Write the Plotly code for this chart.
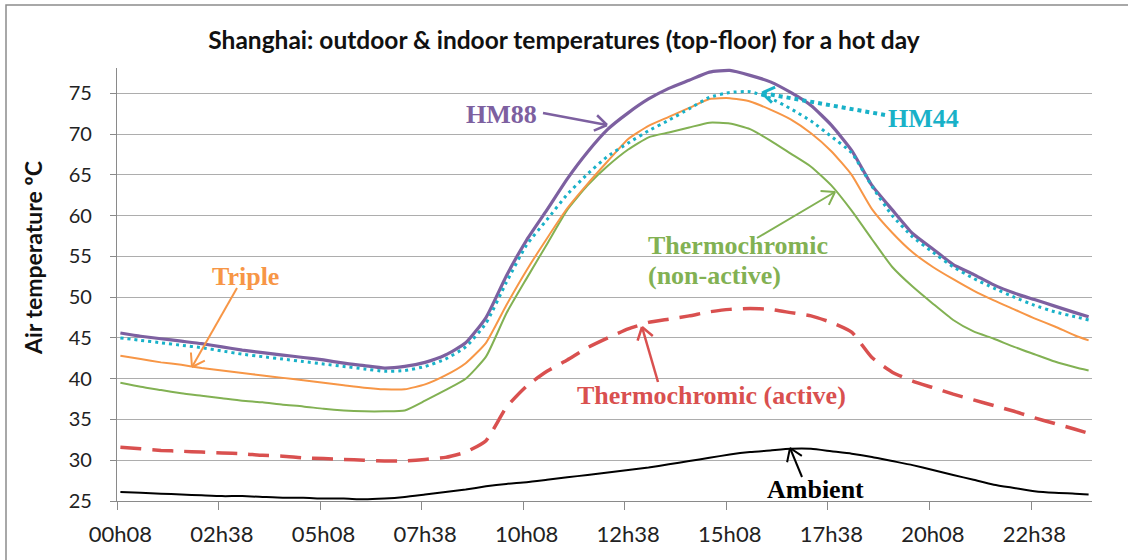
import math
import plotly.graph_objects as go

# ---------------- data ----------------
TIMES = ["00h08", "00h38", "01h08", "01h38", "02h08", "02h38", "03h08", "03h38",
         "04h08", "04h38", "05h08", "05h38", "06h08", "06h38", "07h08", "07h38",
         "08h08", "08h38", "09h08", "09h38", "10h08", "10h38", "11h08", "11h38",
         "12h08", "12h38", "13h08", "13h38", "14h08", "14h38", "15h08", "15h38",
         "16h08", "16h38", "17h08", "17h38", "18h08", "18h38", "19h08", "19h38",
         "20h08", "20h38", "21h08", "21h38", "22h08", "22h38", "23h08", "23h38",
         "23h58"]

TICK_LABELS = ["00h08", "02h38", "05h08", "07h38", "10h08", "12h38",
               "15h08", "17h38", "20h08", "22h38"]

Y_TICKS = [25, 30, 35, 40, 45, 50, 55, 60, 65, 70, 75]

AMBIENT = [26.1, 26.0, 25.9, 25.8, 25.7, 25.6, 25.6, 25.5, 25.4, 25.4,
           25.3, 25.3, 25.2, 25.3, 25.5, 25.8, 26.1, 26.4, 26.8, 27.1,
           27.3, 27.6, 27.9, 28.2, 28.5, 28.8, 29.1, 29.5, 29.9, 30.3,
           30.7, 31.0, 31.2, 31.4, 31.4, 31.1, 30.8, 30.4, 29.9, 29.4,
           28.8, 28.2, 27.6, 27.0, 26.6, 26.2, 26.0, 25.9, 25.8]

TC_ACTIVE = [31.6, 31.4, 31.2, 31.1, 31.0, 30.9, 30.8, 30.6, 30.5, 30.3,
             30.2, 30.1, 30.0, 29.9, 29.9, 30.1, 30.35, 31.0, 32.4, 36.5,
             39.1, 40.9, 42.3, 43.8, 45.0, 46.1, 46.9, 47.3, 47.7, 48.2,
             48.5, 48.6, 48.5, 48.1, 47.7, 46.9, 45.7, 42.6, 40.8, 39.7,
             38.9, 38.1, 37.4, 36.7, 36.0, 35.2, 34.5, 33.8, 33.3]

TC_NONACTIVE = [39.5, 39.0, 38.6, 38.2, 37.9, 37.6, 37.3, 37.1, 36.8, 36.6,
                36.3, 36.1, 36.0, 36.0, 36.1, 37.3, 38.6, 40.0, 42.7, 48.0,
                52.3, 56.5, 60.7, 63.7, 66.1, 68.1, 69.6, 70.2, 70.8, 71.4,
                71.3, 70.6, 69.2, 67.6, 66.0, 63.7, 60.6, 57.1, 53.7, 51.3,
                49.2, 47.2, 45.8, 44.9, 43.9, 43.0, 42.1, 41.4, 41.0]

TRIPLE = [42.8, 42.4, 42.0, 41.7, 41.3, 41.0, 40.7, 40.4, 40.1, 39.8,
          39.5, 39.2, 38.9, 38.7, 38.7, 39.3, 40.4, 41.9, 44.4, 49.0,
          53.3, 57.2, 60.9, 63.9, 66.7, 69.4, 71.0, 72.1, 73.2, 74.3,
          74.4, 74.0, 73.0, 71.8, 70.1, 67.9, 65.0, 60.8, 57.9, 55.5,
          53.7, 52.2, 50.8, 49.6, 48.5, 47.4, 46.4, 45.3, 44.7]

HM44 = [45.0, 44.7, 44.4, 44.1, 43.8, 43.4, 43.0, 42.7, 42.4, 42.1,
        41.8, 41.5, 41.2, 40.9, 41.0, 41.5, 42.4, 43.9, 46.8, 51.8,
        56.4, 59.5, 62.6, 65.1, 67.3, 68.9, 70.4, 71.7, 73.1, 74.5,
        75.1, 75.2, 74.4, 73.1, 71.6, 69.7, 67.7, 63.6, 60.0, 57.4,
        55.5, 53.7, 52.3, 51.1, 50.0, 49.0, 48.2, 47.6, 47.2]

HM88 = [45.6, 45.2, 44.9, 44.6, 44.3, 43.9, 43.5, 43.2, 42.9, 42.6,
        42.3, 41.9, 41.6, 41.3, 41.5, 42.0, 42.9, 44.4, 47.5, 52.6,
        57.0, 60.7, 64.5, 67.8, 70.6, 72.6, 74.3, 75.6, 76.6, 77.6,
        77.8, 77.2, 76.4, 75.1, 73.5, 71.1, 68.0, 63.7, 60.7, 57.8,
        55.9, 54.0, 52.8, 51.5, 50.5, 49.7, 48.9, 48.1, 47.6]


def to_hours(s):
    h, m = s.split("h")
    return int(h) + int(m) / 60.0


x = [to_hours(t) for t in TIMES]
tickvals = [to_hours(t) for t in TICK_LABELS]
boundaries = [v - 1.0 / 12.0 for v in tickvals]

# ---------------- geometry ----------------
W, H = 1128, 560
L, R, T, B = 117, 1092, 68, 501
XR = [0.05, 24.05]
YR = [25, 78.1]


def dx(px):
    return XR[0] + (px - L) / (R - L) * (XR[1] - XR[0])


def dy(py):
    return YR[0] + (B - py) / (B - T) * (YR[1] - YR[0])


C_PURPLE = "#7D60A0"
C_TEAL = "#19B1C8"
C_ORANGE = "#F79646"
C_GREEN = "#82B153"
C_RED = "#D9504F"
C_BLACK = "#000000"

fig = go.Figure()

fig.add_trace(go.Scatter(x=x, y=AMBIENT, mode="lines", name="Ambient",
                         line=dict(color=C_BLACK, width=2, shape="spline", smoothing=0.5)))
fig.add_trace(go.Scatter(x=x, y=TC_ACTIVE, mode="lines", name="Thermochromic (active)",
                         line=dict(color=C_RED, width=3.5, dash="21px,11px", shape="spline", smoothing=0.5)))
fig.add_trace(go.Scatter(x=x, y=TC_NONACTIVE, mode="lines", name="Thermochromic (non-active)",
                         line=dict(color=C_GREEN, width=2, shape="spline", smoothing=0.5)))
fig.add_trace(go.Scatter(x=x, y=TRIPLE, mode="lines", name="Triple",
                         line=dict(color=C_ORANGE, width=2, shape="spline", smoothing=0.5)))
fig.add_trace(go.Scatter(x=x, y=HM88, mode="lines", name="HM88",
                         line=dict(color=C_PURPLE, width=3.2, shape="spline", smoothing=0.5)))
fig.add_trace(go.Scatter(x=x, y=HM44, mode="lines", name="HM44",
                         line=dict(color=C_TEAL, width=3, dash="3px,4px", shape="spline", smoothing=0.5)))

# ---------------- annotations ----------------
SERIF = "Liberation Serif"
LABELS = [
    # text, px x, px y, color, xanchor
    ("HM88", 501, 114, C_PURPLE, "center"),
    ("HM44", 923, 118, C_TEAL, "center"),
    ("Triple", 245, 276, C_ORANGE, "center"),
    ("Thermochromic", 646, 245, C_GREEN, "left"),
    ("(non-active)", 646, 275, C_GREEN, "left"),
    ("Thermochromic (active)", 711, 395, C_RED, "center"),
    ("Ambient", 815, 489, C_BLACK, "center"),
]

ARROWS = [
    # tail px, head px, color, width, dash
    ((543, 113), (607, 125), C_PURPLE, 2.5, None),
    ((885, 115), (762, 93), C_TEAL, 4, "dot"),
    ((237, 288), (192, 367), C_ORANGE, 2, None),
    ((757, 238), (835, 192), C_GREEN, 2, None),
    ((658, 382), (642, 327), C_RED, 2.5, None),
    ((802, 477), (790, 448), C_BLACK, 2, None),
]

annotations = []
shapes = []

for text, px, py, col, anchor in LABELS:
    annotations.append(dict(x=dx(px), y=dy(py), xref="x", yref="y", text="<b>%s</b>" % text,
                            showarrow=False, xanchor=anchor, yanchor="middle",
                            font=dict(family=SERIF, size=26, color=col)))

ARM = 16
ANG = math.radians(34)
for (tx, ty), (hx, hy), col, w, dash in ARROWS:
    line = dict(color=col, width=w)
    if dash:
        line["dash"] = dash
    shapes.append(dict(type="line", xref="x", yref="y", x0=dx(tx), y0=dy(ty),
                       x1=dx(hx), y1=dy(hy), line=line, layer="above"))
    vx, vy = tx - hx, ty - hy
    n = math.hypot(vx, vy)
    ux, uy = vx / n, vy / n
    for s in (1, -1):
        ca, sa = math.cos(s * ANG), math.sin(s * ANG)
        ax = (ux * ca - uy * sa) * ARM
        ay = (ux * sa + uy * ca) * ARM
        annotations.append(dict(x=dx(hx), y=dy(hy), xref="x", yref="y", text="",
                                showarrow=True, arrowhead=0, arrowwidth=w if w < 3.5 else 3,
                                arrowcolor=col, ax=ax, ay=ay, standoff=0, startstandoff=0))

# y-axis title (placed as rotated text)
annotations.append(dict(x=(33 - L) / (R - L), y=(B - 258) / (B - T), xref="paper", yref="paper",
                        text="<b>Air temperature ºC</b>", textangle=-90, showarrow=False,
                        xanchor="center", yanchor="middle",
                        font=dict(family="Lato", size=23, color="#111111")))

# chart frame
shapes.append(dict(type="rect", xref="paper", yref="paper",
                   x0=(6 - L) / (R - L), x1=(W + 20 - L) / (R - L),
                   y0=(B - (H + 20)) / (B - T), y1=(B - 5) / (B - T),
                   line=dict(color="#8C8C8C", width=1.5), fillcolor="rgba(0,0,0,0)", layer="below"))

AX_COLOR = "#8A8A8A"
fig.update_layout(
    width=W, height=H,
    margin=dict(l=L, r=W - R, t=T, b=H - B),
    paper_bgcolor="white", plot_bgcolor="white",
    showlegend=False,
    title=dict(text="<b>Shanghai: outdoor & indoor temperatures (top-floor) for a hot day</b>",
               x=564 / W, xref="container", xanchor="center",
               y=1 - 40 / H, yref="container", yanchor="middle",
               font=dict(family="Lato", size=24.5, color="#111111")),
    xaxis=dict(range=XR, tickmode="array", tickvals=tickvals, ticktext=TICK_LABELS,
               ticks="", showgrid=False, zeroline=False,
               showline=True, linecolor=AX_COLOR, linewidth=1.3,
               tickfont=dict(family="Lato", size=22, color="#222222"),
               ticklabelstandoff=13,
               minor=dict(tickmode="array", tickvals=boundaries, ticks="outside", ticklen=8,
                          tickcolor=AX_COLOR, tickwidth=1.3, showgrid=False)),
    yaxis=dict(range=YR, tickmode="array", tickvals=Y_TICKS,
               ticks="outside", ticklen=6, tickcolor=AX_COLOR, tickwidth=1.3,
               showgrid=True, gridcolor="#ADADAD", gridwidth=1.2, zeroline=False,
               showline=True, linecolor=AX_COLOR, linewidth=1.3,
               tickfont=dict(family="Lato", size=20, color="#222222"),
               ticklabelstandoff=14),
    annotations=annotations,
    shapes=shapes,
)

fig.write_html("out.html", config={"displayModeBar": False},
               post_script="document.body.style.margin='0px';")
